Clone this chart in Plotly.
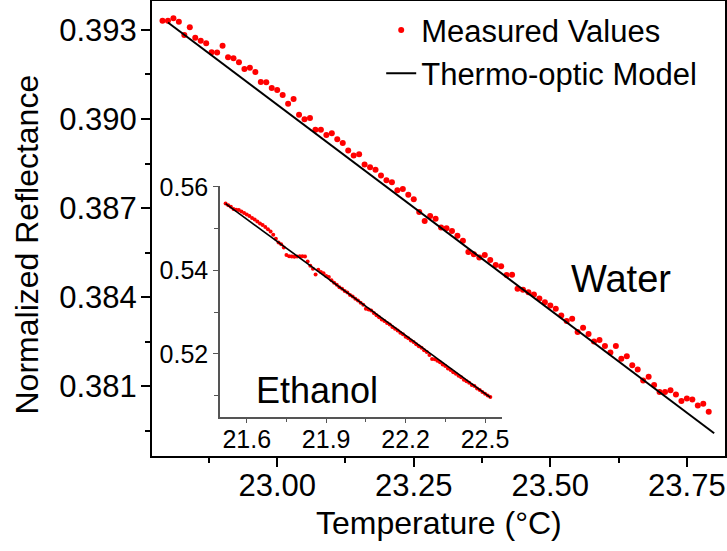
import plotly.graph_objects as go

# ---------------- data ----------------
water_temp = [22.79, 22.80, 22.81, 22.82, 22.83, 22.84, 22.85, 22.86, 22.87, 22.88,
              22.89, 22.90, 22.91, 22.92, 22.93, 22.94, 22.95, 22.96, 22.97, 22.98,
              22.99, 23.00, 23.01, 23.02, 23.03, 23.04, 23.05, 23.06, 23.07, 23.08,
              23.09, 23.10, 23.11, 23.12, 23.13, 23.14, 23.15, 23.16, 23.17, 23.18,
              23.19, 23.20, 23.21, 23.22, 23.23, 23.24, 23.25, 23.26, 23.27, 23.28,
              23.29, 23.30, 23.31, 23.32, 23.33, 23.34, 23.35, 23.36, 23.37, 23.38,
              23.39, 23.40, 23.41, 23.42, 23.43, 23.44, 23.45, 23.46, 23.47, 23.48,
              23.49, 23.50, 23.51, 23.52, 23.53, 23.54, 23.55, 23.56, 23.57, 23.58,
              23.59, 23.60, 23.61, 23.62, 23.63, 23.64, 23.65, 23.66, 23.67, 23.68,
              23.69, 23.70, 23.71, 23.72, 23.73, 23.74, 23.75, 23.76, 23.77, 23.78,
              23.79]
water_refl = [0.39331, 0.39331, 0.39339, 0.39328, 0.39283, 0.39309, 0.39274, 0.39264, 0.39255, 0.39225,
              0.39224, 0.39247, 0.39208, 0.39205, 0.39191, 0.39168, 0.39173, 0.39158, 0.39125, 0.39124,
              0.39104, 0.39098, 0.39081, 0.39051, 0.39067, 0.39014, 0.38999, 0.39003, 0.38964, 0.38964,
              0.38946, 0.38952, 0.38932, 0.38919, 0.38894, 0.38877, 0.38881, 0.38847, 0.38837, 0.38829,
              0.38810, 0.38794, 0.38787, 0.38760, 0.38764, 0.38745, 0.38730, 0.38687, 0.38656, 0.38673,
              0.38664, 0.38634, 0.38632, 0.38623, 0.38607, 0.38590, 0.38552, 0.38544, 0.38533, 0.38542,
              0.38525, 0.38508, 0.38504, 0.38474, 0.38475, 0.38428, 0.38425, 0.38416, 0.38409, 0.38395,
              0.38383, 0.38372, 0.38361, 0.38338, 0.38319, 0.38327, 0.38282, 0.38297, 0.38276, 0.38250,
              0.38255, 0.38235, 0.38213, 0.38235, 0.38192, 0.38201, 0.38170, 0.38156, 0.38119, 0.38132,
              0.38104, 0.38080, 0.38080, 0.38086, 0.38072, 0.38050, 0.38058, 0.38055, 0.38035, 0.38041,
              0.38014]
water_model_temp = [22.80, 23.80]
water_model_refl = [0.39325, 0.37941]

ethanol_temp = [21.52, 21.53, 21.54, 21.55, 21.56, 21.57, 21.58, 21.59, 21.60, 21.61,
                21.62, 21.63, 21.64, 21.65, 21.66, 21.67, 21.68, 21.69, 21.70, 21.71,
                21.72, 21.73, 21.74, 21.75, 21.76, 21.77, 21.78, 21.79, 21.80, 21.81,
                21.82, 21.83, 21.84, 21.85, 21.86, 21.87, 21.88, 21.89, 21.90, 21.91,
                21.92, 21.93, 21.94, 21.95, 21.96, 21.97, 21.98, 21.99, 22.00, 22.01,
                22.02, 22.03, 22.04, 22.05, 22.06, 22.07, 22.08, 22.09, 22.10, 22.11,
                22.12, 22.13, 22.14, 22.15, 22.16, 22.17, 22.18, 22.19, 22.20, 22.21,
                22.22, 22.23, 22.24, 22.25, 22.26, 22.27, 22.28, 22.29, 22.30, 22.31,
                22.32, 22.33, 22.34, 22.35, 22.36, 22.37, 22.38, 22.39, 22.40, 22.41,
                22.42, 22.43, 22.44, 22.45, 22.46, 22.47, 22.48, 22.49, 22.50, 22.51,
                22.52]
ethanol_refl = [0.55600, 0.55559, 0.55522, 0.55466, 0.55450, 0.55443, 0.55407, 0.55371, 0.55335, 0.55298,
                0.55252, 0.55216, 0.55169, 0.55123, 0.55087, 0.55035, 0.54984, 0.54928, 0.54851, 0.54755,
                0.54669, 0.54622, 0.54546, 0.54366, 0.54338, 0.54330, 0.54325, 0.54332, 0.54335, 0.54340,
                0.54330, 0.54209, 0.54113, 0.54037, 0.53900, 0.54014, 0.53958, 0.53931, 0.53865, 0.53839,
                0.53762, 0.53706, 0.53655, 0.53598, 0.53562, 0.53505, 0.53468, 0.53413, 0.53375, 0.53319,
                0.53282, 0.53225, 0.53180, 0.53080, 0.53064, 0.53037, 0.52981, 0.52925, 0.52879, 0.52822,
                0.52786, 0.52740, 0.52703, 0.52647, 0.52601, 0.52564, 0.52508, 0.52472, 0.52415, 0.52379,
                0.52323, 0.52286, 0.52230, 0.52184, 0.52147, 0.52091, 0.52045, 0.51978, 0.51882, 0.51876,
                0.51839, 0.51803, 0.51747, 0.51711, 0.51654, 0.51618, 0.51562, 0.51525, 0.51479, 0.51443,
                0.51386, 0.51350, 0.51314, 0.51257, 0.51231, 0.51175, 0.51138, 0.51092, 0.51046, 0.51009,
                0.50973]
ethanol_model_temp = [21.52, 22.52]
ethanol_model_refl = [0.55595, 0.50963]

main_xticks = [23.00, 23.25, 23.50, 23.75]
main_xticktext = ["23.00", "23.25", "23.50", "23.75"]
main_yticks = [0.381, 0.384, 0.387, 0.390, 0.393]
main_yticktext = ["0.381", "0.384", "0.387", "0.390", "0.393"]
inset_xticks = [21.6, 21.9, 22.2, 22.5]
inset_xticktext = ["21.6", "21.9", "22.2", "22.5"]
inset_yticks = [0.52, 0.54, 0.56]
inset_yticktext = ["0.52", "0.54", "0.56"]

FONT = "Liberation Sans, Arial, sans-serif"
RED = "#ff0000"

fig = go.Figure()
fig.add_trace(go.Scatter(x=water_temp, y=water_refl, mode="markers", name="Measured Values",
                         marker=dict(color=RED, size=6), xaxis="x", yaxis="y", cliponaxis=False))
fig.add_trace(go.Scatter(x=water_model_temp, y=water_model_refl, mode="lines", name="Thermo-optic Model",
                         line=dict(color="black", width=2), xaxis="x", yaxis="y"))
fig.add_trace(go.Scatter(x=ethanol_temp, y=ethanol_refl, mode="markers", showlegend=False,
                         marker=dict(color=RED, size=4), xaxis="x2", yaxis="y2"))
fig.add_trace(go.Scatter(x=ethanol_model_temp, y=ethanol_model_refl, mode="lines", showlegend=False,
                         line=dict(color="black", width=1.6), xaxis="x2", yaxis="y2"))

main_axis = dict(showgrid=False, zeroline=False, showline=True, linecolor="black", linewidth=2,
                 mirror="ticks", ticks="outside", ticklen=9, tickwidth=1.5, tickcolor="black",
                 automargin=False,
                 tickfont=dict(family=FONT, size=31, color="black"))
inset_axis = dict(showgrid=False, zeroline=False, showline=True, linecolor="#555555", linewidth=1.5,
                  ticks="outside", ticklen=5, tickwidth=1.2, tickcolor="#555555", automargin=False,
                  tickfont=dict(family=FONT, size=25, color="black"))

fig.update_layout(
    template="none",
    width=727, height=551,
    margin=dict(l=152, r=2, t=1, b=95, pad=0),
    paper_bgcolor="white", plot_bgcolor="rgba(0,0,0,0)",
    font=dict(family=FONT, color="black"),
    xaxis=dict(range=[22.7708, 23.8198], tickvals=main_xticks, ticktext=main_xticktext,
               ticklabelstandoff=-8,
               minor=dict(tickvals=[22.875, 23.125, 23.375, 23.625], ticks="outside", ticklen=5,
                          tickwidth=1.5, tickcolor="black"),
               **main_axis),
    yaxis=dict(range=[0.378646, 0.393975], tickvals=main_yticks, ticktext=main_yticktext,
               ticklabelstandoff=-2,
               minor=dict(tickvals=[0.3795, 0.3825, 0.3855, 0.3885, 0.3915], ticks="outside", ticklen=5,
                          tickwidth=1.5, tickcolor="black"),
               **main_axis),
    xaxis2=dict(domain=[0.1187, 0.6103], anchor="y2", range=[21.499, 22.563],
                tickvals=inset_xticks, ticktext=inset_xticktext, ticklabelstandoff=-5,
                minor=dict(tickvals=[21.75, 22.05, 22.35], ticks="outside", ticklen=4,
                           tickwidth=1.2, tickcolor="#555555"),
                **inset_axis),
    yaxis2=dict(domain=[0.0864, 0.5936], anchor="x2", range=[0.505, 0.5602],
                tickvals=inset_yticks, ticktext=inset_yticktext,
                minor=dict(tickvals=[0.51, 0.53, 0.55], ticks="outside", ticklen=4,
                           tickwidth=1.2, tickcolor="#555555"),
                **inset_axis),
    legend=dict(x=0.40, y=0.995, xanchor="left", yanchor="top", bgcolor="rgba(0,0,0,0)",
                borderwidth=0, font=dict(family=FONT, size=31, color="black"),
                tracegroupgap=0),
    annotations=[
        dict(text="Water", xref="paper", yref="paper", x=0.8185, y=0.389, showarrow=False,
             xanchor="center", yanchor="middle", font=dict(family=FONT, size=38, color="black")),
        dict(text="Ethanol", xref="paper", yref="paper", x=0.288, y=0.145, showarrow=False,
             xanchor="center", yanchor="middle", font=dict(family=FONT, size=36, color="black")),
        dict(text="Temperature (\u00b0C)", xref="paper", yref="paper", x=0.5, y=-0.1473,
             showarrow=False, xanchor="center", yanchor="middle",
             font=dict(family=FONT, size=32, color="black")),
        dict(text="Normalized Reflectance", xref="paper", yref="paper", x=-0.2182, y=0.4648,
             showarrow=False, xanchor="center", yanchor="middle", textangle=-90,
             font=dict(family=FONT, size=32, color="black")),
    ],
)

fig.write_html("out.html")
